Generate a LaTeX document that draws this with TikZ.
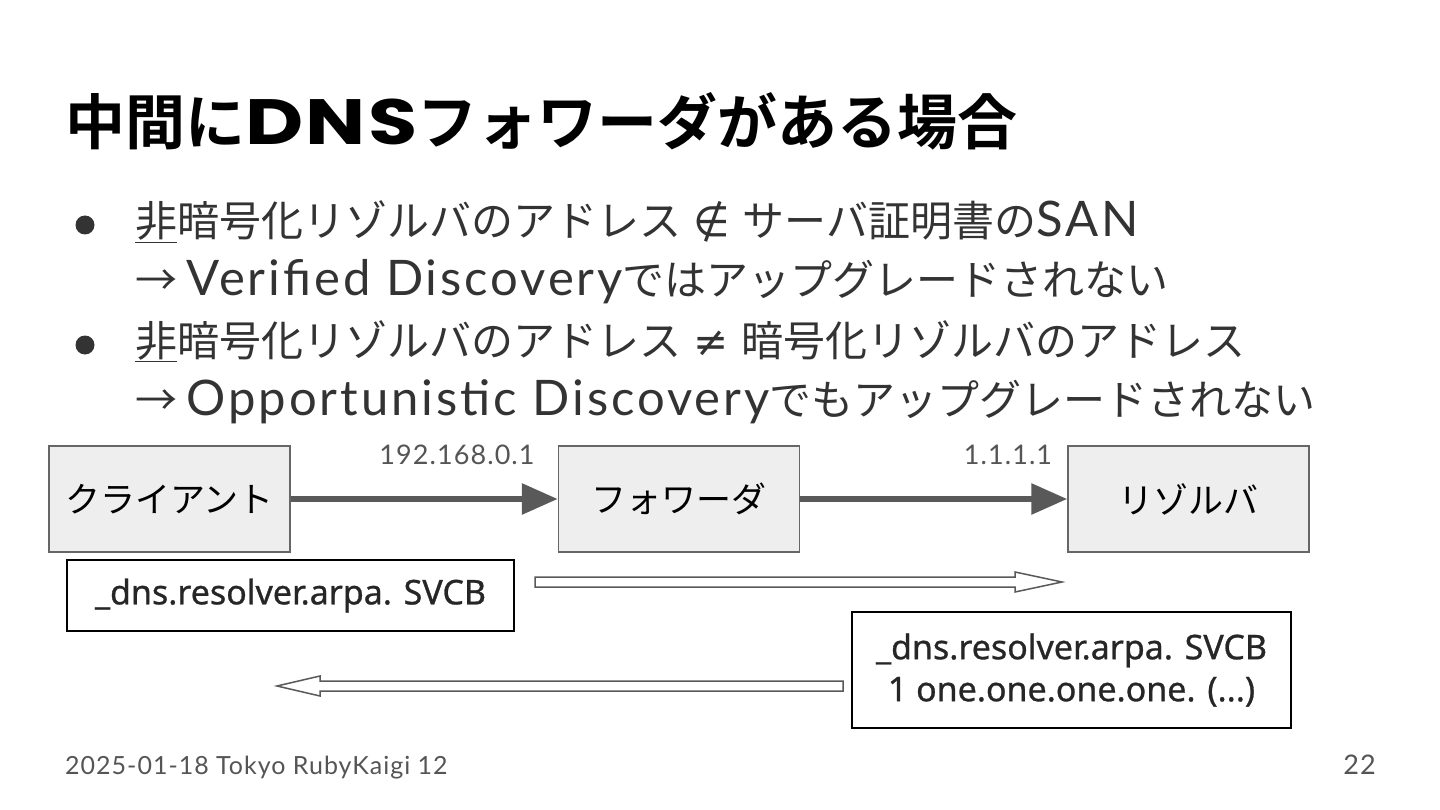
\documentclass[tikz,border=0pt]{standalone}
\usepackage{fontspec}
\setmainfont{Noto Sans CJK JP}
\newfontfamily\jpfont{Noto Sans CJK JP}
\newfontfamily\jpbold{Noto Sans CJK JP}[UprightFont=* Bold]
\newfontfamily\symfont{DejaVu Sans}
\newfontfamily\codefont{Noto Sans}[FakeBold=0.8]
\newfontfamily\footfont{Lato}[LetterSpace=4]
\newfontfamily\latfont{Lato}[LetterSpace=6]
\newfontfamily\titlelat{Poppins}[LetterSpace=3]
\newcommand{\lt}[1]{{\latfont\fontsize{49}{52}\selectfont #1}}
\usetikzlibrary{arrows.meta}
\definecolor{boxfill}{HTML}{EEEEEE}
\definecolor{boxline}{HTML}{666666}
\definecolor{arrowgray}{HTML}{595959}
\definecolor{textgray}{HTML}{333333}
\definecolor{labelgray}{HTML}{555555}
\tikzset{
  hostbox/.style={draw=boxline, line width=1.5pt, fill=boxfill, minimum width=241pt, minimum height=106pt, inner sep=0pt, font=\jpfont\fontsize{35}{40}\selectfont, text=black},
  msgbox/.style={draw=black, line width=1.5pt, fill=white, inner sep=0pt, font=\codefont\fontsize{34}{42}\selectfont, text=black!85, align=center},
  flowarrow/.style={draw=arrowgray, line width=6pt, -{Triangle[length=36pt,width=30pt]}},
  hollow/.style={draw=black!65, line width=1.5pt, fill=white},
  iplabel/.style={font=\footfont\fontsize{27}{30}\selectfont, text=labelgray},
  bullettext/.style={anchor=base west, inner sep=0pt, font=\jpfont\fontsize{42}{48}\selectfont, text=textgray},
}
\begin{document}
\begin{tikzpicture}[x=1pt,y=-1pt]
\useasboundingbox (0,0) rectangle (1440,810);
\fill[white] (0,0) rectangle (1440,810);
% title
\node[anchor=base west, inner sep=0pt, font=\jpbold\fontsize{60}{70}\selectfont, text=black] (title) at (65,145) {中間に{\titlelat\bfseries\fontsize{64}{70}\selectfont\scalebox{1.25}[1]{DNS}}フォワーダがある場合};
% bullets
\fill[textgray] (85,225) circle (9.5pt);
\fill[textgray] (85,345) circle (9.5pt);
\node[bullettext] (b1) at (135,237) {\underline{非}暗号化リゾルバのアドレス\hspace{0.3em}{\symfont ∉}\hspace{0.3em}サーバ証明書の\lt{SAN}};
\node[bullettext] (b2) at (135,296) {→ \lt{Verified Discovery}ではアップグレードされない};
\node[bullettext] (b3) at (135,356) {\underline{非}暗号化リゾルバのアドレス\hspace{0.3em}{\symfont ≠}\hspace{0.3em}暗号化リゾルバのアドレス};
\node[bullettext] (b4) at (135,415) {→ \lt{Opportunistic Discovery}でもアップグレードされない};
% hosts
\node[hostbox] (client) at (169.5,499) {クライアント};
\node[hostbox] (fwd) at (679,499) {フォワーダ};
\node[hostbox] (res) at (1188.5,499) {リゾルバ};
\draw[flowarrow] (client.east) -- (fwd.west);
\draw[flowarrow] (fwd.east) -- (res.west);
\node[iplabel] (ip1) at (457,455) {192.168.0.1};
\node[iplabel] (ip2) at (1008,455) {1.1.1.1};
% messages
\node[msgbox, minimum width=447pt, minimum height=71pt] (q) at (290.5,595.5) {\_dns.resolver.arpa. SVCB};
\node[msgbox, minimum width=439pt, minimum height=116pt] (a) at (1071.5,670) {\_dns.resolver.arpa. SVCB\\1 one.one.one.one. (...)};
% hollow arrows
\coordinate (qs) at (535,582);
\coordinate (qe) at (1062,582);
\draw[hollow] (qs) ++(0,-5) -- ++(480,0) -- ++(0,-5) -- (qe) -- ++(-47,10) -- ++(0,-5) -- ++(-480,0) -- cycle;
\coordinate (as) at (843,686);
\coordinate (ae) at (277,686);
\draw[hollow] (as) ++(0,-5) -- ++(-523,0) -- ++(0,-5) -- (ae) -- ++(43,10) -- ++(0,-5) -- ++(523,0) -- cycle;
% footer
\node[anchor=base west, inner sep=0pt, font=\footfont\fontsize{25}{28}\selectfont, text=labelgray] (foot) at (65,774) {2025-01-18 Tokyo RubyKaigi 12};
\node[anchor=base east, inner sep=0pt, font=\footfont\fontsize{27}{30}\selectfont, text=labelgray] (page) at (1376,774) {22};
\end{tikzpicture}
\end{document}
